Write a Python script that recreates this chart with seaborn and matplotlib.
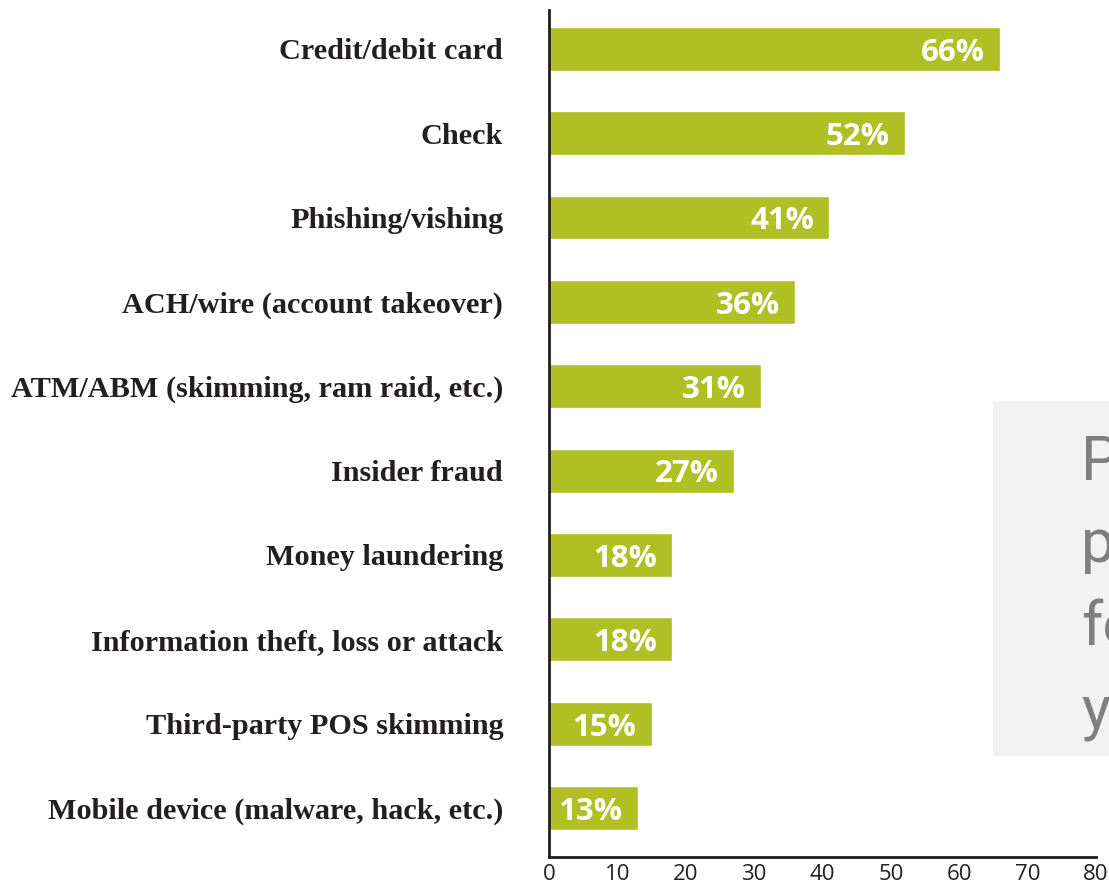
import matplotlib
matplotlib.use("Agg")
import matplotlib.pyplot as plt
import seaborn as sns
import pandas as pd
from matplotlib.patches import Rectangle

categories = [
    "Credit/debit card",
    "Check",
    "Phishing/vishing",
    "ACH/wire (account takeover)",
    "ATM/ABM (skimming, ram raid, etc.)",
    "Insider fraud",
    "Money laundering",
    "Information theft, loss or attack",
    "Third-party POS skimming",
    "Mobile device (malware, hack, etc.)",
]
values = [66, 52, 41, 36, 31, 27, 18, 18, 15, 13]
value_labels = ["66%", "52%", "41%", "36%", "31%", "27%", "18%", "18%", "15%", "13%"]
xticks = [0, 10, 20, 30, 40, 50, 60, 70, 80]
side_text = ["Pa", "pl", "fo", "ye"]

df = pd.DataFrame({"category": categories, "value": values})

sns.set_theme(style="white")
plt.rcParams["font.family"] = ["Liberation Serif", "DejaVu Serif"]

fig = plt.figure(figsize=(11.09, 8.86), dpi=100)
fig.patch.set_facecolor("white")

# grey side panel (partially cropped in the reference)
fig.patches.append(Rectangle((993 / 1109, 1 - 756 / 886), 0.2, (756 - 401) / 886,
                             transform=fig.transFigure, facecolor="#f2f2f2",
                             edgecolor="none", zorder=0))
for i, t in enumerate(side_text):
    fig.text(1081 / 1109, 1 - (462 + i * 83.5) / 886, t, color="#7f7f7f",
             fontsize=44, family=["Roboto", "DejaVu Sans"],
             fontstretch="condensed", va="center", ha="left", zorder=1)

ax = fig.add_axes([549 / 1109, 1 - 857 / 886, (1096 - 549) / 1109, (857 - 10) / 886])
ax.set_facecolor("none")

sns.barplot(data=df, x="value", y="category", orient="h", color="#b0bf24",
            width=0.52, saturation=1, ax=ax, zorder=2)

for i, (v, lab) in enumerate(zip(values, value_labels)):
    ax.annotate(lab, xy=(v, i), xytext=(-11, -8.5), textcoords="offset points",
                ha="right", va="baseline", color="white", fontsize=22.5,
                fontweight="bold", family=["Open Sans", "DejaVu Sans"])

ax.set_xlim(0, 80)
ax.set_ylim(9.58, -0.46)
ax.set_xticks(xticks)
ax.set_xticklabels([str(t) for t in xticks], family=["Open Sans", "DejaVu Sans"],
                   fontsize=16, color="#231f20")
ax.tick_params(axis="x", direction="in", length=8, width=2, color="#231f20", pad=5)
ax.tick_params(axis="y", length=0, pad=33)
for lab in ax.get_yticklabels():
    lab.set_fontsize(21.8)
    lab.set_fontweight("bold")
    lab.set_color("#231f20")
ax.set_xlabel("")
ax.set_ylabel("")
for s in ["top", "right"]:
    ax.spines[s].set_visible(False)
for s in ["left", "bottom"]:
    ax.spines[s].set_color("#231f20")
    ax.spines[s].set_linewidth(2)

fig.savefig("out.png", dpi=100, facecolor="white")
